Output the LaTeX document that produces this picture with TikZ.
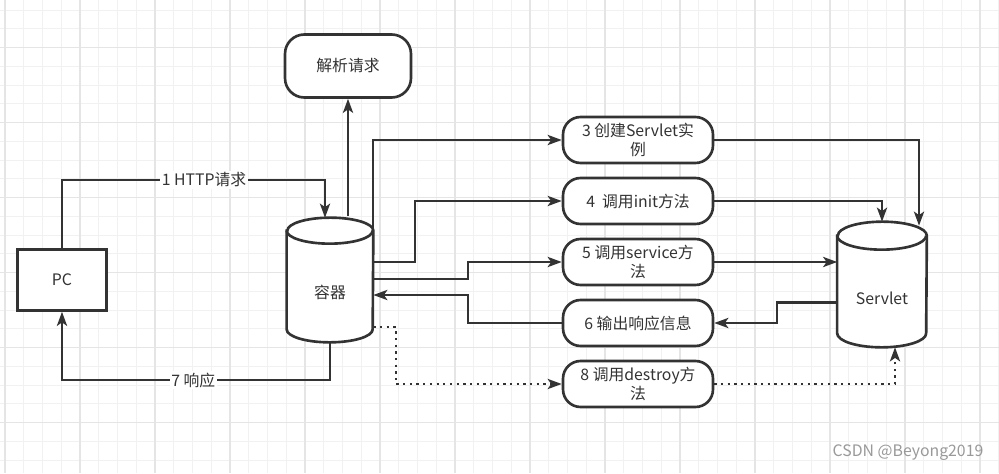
\documentclass[tikz,border=0pt]{standalone}
\usepackage{fontspec}
\setmainfont{Noto Sans CJK SC}
\usetikzlibrary{arrows.meta,calc}
\definecolor{ink}{HTML}{333333}
\definecolor{grid minor}{HTML}{F1F1F1}
\definecolor{grid major}{HTML}{E5E5E5}
% outline of a storage drum over a named node: name, x radius, y radius (px)
\newcommand{\drawdrum}[3]{%
	\draw[draw=ink, line width=1.5pt, fill=white]
		($(#1.north west)+(0,#3)$) -- ($(#1.south west)+(0,-#3)$)
		arc[start angle=180, end angle=360, x radius={#2*0.02cm}, y radius={#3*0.02cm}]
		-- ($(#1.north east)+(0,#3)$)
		arc[start angle=0, end angle=180, x radius={#2*0.02cm}, y radius={#3*0.02cm}]
		-- cycle;
	\draw[draw=ink, line width=1.5pt]
		($(#1.north west)+(0,#3)$)
		arc[start angle=180, end angle=360, x radius={#2*0.02cm}, y radius={#3*0.02cm}];
}

\begin{document}
\begin{tikzpicture}[x=0.02cm, y=-0.02cm,
		font=\fontsize{9pt}{11.3pt}\selectfont, text=ink,
		shapebox/.style={draw=ink, line width=1.5pt, fill=white, align=center, inner sep=0pt},
		pill/.style={shapebox, rounded corners=10pt, minimum width=3cm, minimum height=0.92cm},
		drum/.style={inner sep=0pt},
		conn/.style={draw=ink, line width=1.3pt, -{Stealth[length=8pt, width=5.8pt, inset=2pt]}},
		dconn/.style={conn, dash pattern=on 1.3pt off 2.5pt},
		lbl/.style={fill=white, inner sep=1pt}]
		% background and grid
		\fill[white] (0,0) rectangle (999,473);
		\useasboundingbox (0,0) rectangle (999,473);
		\foreach \k in {0,...,53}
			\draw[grid minor, line width=0.55pt] ({5+18.75*\k},0) -- ({5+18.75*\k},473);
		\foreach \k in {0,...,24}
			\draw[grid minor, line width=0.55pt] (0,{10+18.75*\k}) -- (999,{10+18.75*\k});
		\foreach \k in {0,...,13}
			\draw[grid major, line width=0.6pt] ({5+75*\k},0) -- ({5+75*\k},473);
		\foreach \k in {0,...,5}
			\draw[grid major, line width=0.6pt] (0,{47.5+75*\k}) -- (999,{47.5+75*\k});
		% nodes
		\node[shapebox, minimum width=1.78cm, minimum height=1.22cm] (pc) at (62,280) {PC};
		\node[drum, minimum width=1.72cm, minimum height=2.48cm] (ctr) at (330,280) {};
		\drawdrum{ctr}{43}{13}
		\node[yshift=-0.25cm] at (ctr.center) {容器};
		\node[pill, rounded corners=11pt, minimum width=2.52cm, minimum height=1.26cm] (parse) at (348,66) {解析请求};
		\node[pill] (b3) at (638,140) {3 创建Servlet实\\例};
		\node[pill] (b4) at (638,201) {4\ \ 调用init方法};
		\node[pill] (b5) at (638,262) {5 调用service方\\法};
		\node[pill] (b6) at (638,323) {6 输出响应信息};
		\node[pill] (b8) at (638,384) {8 调用destroy方\\法};
		\node[drum, minimum width=1.78cm, minimum height=2.5cm] (srv) at (882,284.5) {};
		\drawdrum{srv}{44.5}{14}
		\node[yshift=-0.27cm] at (srv.center) {Servlet};
		% connectors
		\draw[conn] (pc.north) |- node[lbl, pos=0.77] {1 HTTP请求} (325,180) -- (325,0 |- ctr.north);
		\draw[conn] ($(parse.south |- ctr.north)+(0,-2)$) -- (parse.south);
		\draw[conn] ($(ctr.east)+(0,-48)$) |- (b3.west);
		\draw[conn] (b3.east) -| ($(srv.north)+(37,4)$);
		\draw[conn] ($(ctr.east)+(0,-18)$) -| (415,0 |- b4.west) -- (b4.west);
		\draw[conn] (b4.east) -| (srv.north);
		\draw[conn] ($(ctr.east)+(0,-1)$) -| (468,0 |- b5.west) -- (b5.west);
		\draw[conn] (b5.east) -- (b5.east -| srv.west);
		\draw[conn] ($(srv.west)+(0,18)$) -| (777,0 |- b6.east) -- (b6.east);
		\draw[conn] (b6.west) -| ($(ctr.east)+(95,15)$) -- ($(ctr.east)+(0,15)$);
		\draw[conn] (ctr.south) -- ++(0,38) -| node[lbl, pos=0.255] {7 响应} (pc.south);
		\draw[dconn] ($(ctr.east)+(0,47)$) -| ($(b8.west)+(-166,0)$) -- (b8.west);
		\draw[dconn] (b8.east) -| ($(srv.south)+(13,0)$);
		% watermark
		\node[text=black!40] at (908,453) {CSDN @Beyong2019};
	\end{tikzpicture}
\end{document}
